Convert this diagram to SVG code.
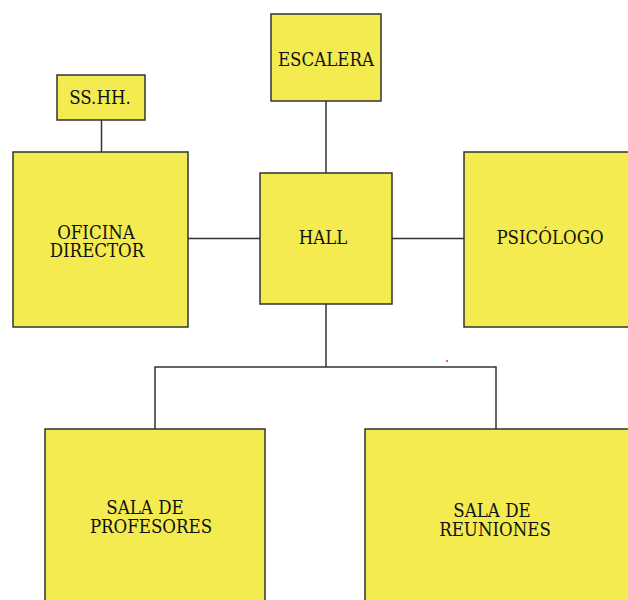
<svg xmlns="http://www.w3.org/2000/svg" width="628" height="600" viewBox="0 0 628 600">
  <style>
    .room { fill: #F3EB50; stroke: #333333; stroke-width: 1.5; }
    .lbl { font-family: "DejaVu Serif Condensed", "DejaVu Serif", serif; font-stretch: condensed; font-size: 18.5px; fill: #111111; text-anchor: middle; }
    .wire { fill: none; stroke: #333333; stroke-width: 1.5; }
  </style>
  <rect width="628" height="600" fill="#ffffff"/>

  <!-- connectors -->
  <g id="connectors">
    <line class="wire" x1="101.5" y1="120" x2="101.5" y2="152"/>
    <line class="wire" x1="326" y1="101" x2="326" y2="173"/>
    <line class="wire" x1="188" y1="238.5" x2="260" y2="238.5"/>
    <line class="wire" x1="392" y1="238.5" x2="464" y2="238.5"/>
    <polyline class="wire" points="326,304 326,367"/>
    <polyline class="wire" points="155,429 155,367 496,367 496,429"/>
  </g>

  <g id="escalera">
    <rect class="room" x="271" y="14" width="110" height="87"/>
    <text class="lbl" x="326" y="65.5">ESCALERA</text>
  </g>

  <g id="sshh">
    <rect class="room" x="57" y="75" width="88" height="45"/>
    <text class="lbl" x="100" y="104">SS.HH.</text>
  </g>

  <g id="oficina-director">
    <rect class="room" x="13" y="152" width="175" height="175"/>
    <text class="lbl" x="96" y="239">OFICINA</text>
    <text class="lbl" x="97" y="257">DIRECTOR</text>
  </g>

  <g id="hall">
    <rect class="room" x="260" y="173" width="132" height="131"/>
    <text class="lbl" x="323" y="244">HALL</text>
  </g>

  <g id="psicologo">
    <rect class="room" x="464" y="152" width="170" height="175"/>
    <text class="lbl" x="550" y="244">PSICÓLOGO</text>
  </g>

  <g id="sala-profesores">
    <rect class="room" x="45" y="429" width="220" height="180"/>
    <text class="lbl" x="145" y="514">SALA DE</text>
    <text class="lbl" x="151" y="533">PROFESORES</text>
  </g>

  <g id="sala-reuniones">
    <rect class="room" x="365" y="429" width="270" height="180"/>
    <text class="lbl" x="492" y="517">SALA DE</text>
    <text class="lbl" x="495" y="536">REUNIONES</text>
  </g>

  <circle cx="447" cy="361" r="1" fill="#e8314a"/>
</svg>
